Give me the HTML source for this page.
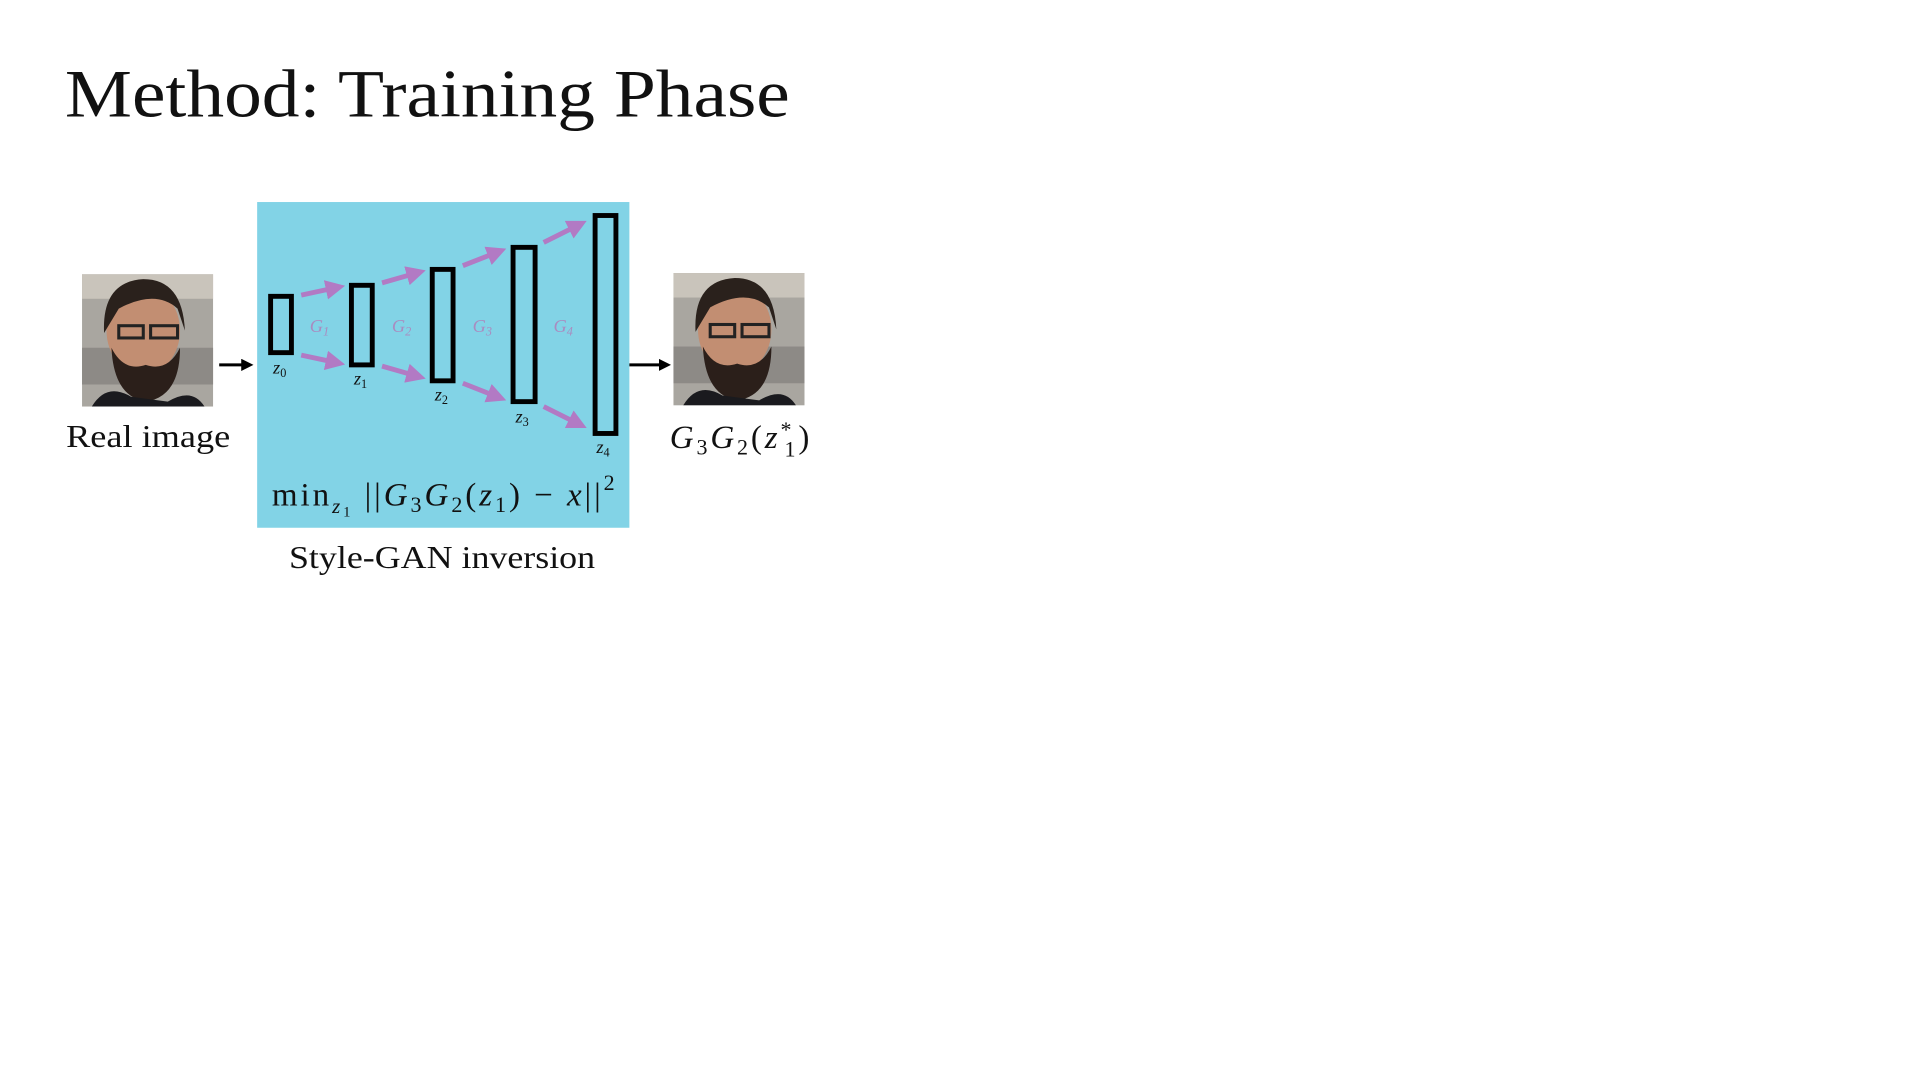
<!DOCTYPE html>
<html><head><meta charset="utf-8"><style>
html,body{margin:0;padding:0;background:#fff;width:1920px;height:1080px;overflow:hidden}
svg{display:block}
text{font-family:"Liberation Serif","DejaVu Serif",serif;fill:#111}
</style></head><body>
<svg width="1920" height="1080" viewBox="0 0 1568 882">
<defs>
<marker id="pa" markerWidth="4" markerHeight="4" refX="2" refY="2" orient="auto" markerUnits="strokeWidth"><path d="M0,0 L4,2 L0,4 z" fill="#b27ac4"/></marker>
<marker id="ba" markerWidth="4" markerHeight="4" refX="2" refY="2" orient="auto" markerUnits="strokeWidth"><path d="M0,0 L4,2 L0,4 z" fill="#000"/></marker>
<g id="face">
<rect x="0" y="0" width="107" height="108" fill="#a9a6a0"/>
<rect x="0" y="0" width="107" height="20" fill="#c9c4bb"/>
<rect x="0" y="60" width="107" height="30" fill="#8d8a86"/>
<ellipse cx="50" cy="46" rx="30" ry="36" fill="#c28e72"/>
<path d="M18,48 Q16,6 50,4 Q82,4 84,46 L78,28 Q60,12 30,28 Z" fill="#2a211c"/>
<path d="M24,60 Q26,100 52,104 Q80,100 80,60 Q70,80 52,74 Q34,80 24,60 Z" fill="#2b1f1a"/>
<rect x="30" y="42" width="20" height="10" fill="none" stroke="#222" stroke-width="2.5"/>
<rect x="56" y="42" width="22" height="10" fill="none" stroke="#222" stroke-width="2.5"/>
<path d="M8,108 Q20,88 40,100 L70,104 Q90,92 100,108 Z" fill="#1a1a1e"/>
</g>
</defs>

<text x="53" y="95" font-size="55" textLength="592" lengthAdjust="spacingAndGlyphs">Method: Training Phase</text>

<use href="#face" x="67" y="224"/>
<text x="54" y="365" font-size="26" textLength="134" lengthAdjust="spacingAndGlyphs">Real image</text>
<line x1="179" y1="298" x2="202" y2="298" stroke="#000" stroke-width="2.5" marker-end="url(#ba)"/>

<rect x="210" y="165" width="304" height="266" fill="#82d3e6"/>

<g fill="none" stroke="#000" stroke-width="4">
<rect x="221" y="242" width="17" height="46"/>
<rect x="287" y="233" width="17" height="65"/>
<rect x="353" y="220" width="17" height="91"/>
<rect x="419" y="202" width="18" height="126"/>
<rect x="486" y="176" width="17" height="178"/>
</g>

<g stroke="#b27ac4" stroke-width="4">
<line x1="246" y1="241" x2="274" y2="235" marker-end="url(#pa)"/>
<line x1="246" y1="290" x2="274" y2="296" marker-end="url(#pa)"/>
<line x1="312" y1="231" x2="340" y2="223" marker-end="url(#pa)"/>
<line x1="312" y1="299" x2="340" y2="307" marker-end="url(#pa)"/>
<line x1="378" y1="217" x2="406" y2="206" marker-end="url(#pa)"/>
<line x1="378" y1="313" x2="406" y2="324" marker-end="url(#pa)"/>
<line x1="444" y1="198" x2="472" y2="184" marker-end="url(#pa)"/>
<line x1="444" y1="332" x2="472" y2="346" marker-end="url(#pa)"/>
</g>

<g font-size="15" font-style="italic">
<text x="253" y="271" style="fill:#a98cc0">G<tspan font-size="10" dy="3">1</tspan></text>
<text x="320" y="271" style="fill:#a98cc0">G<tspan font-size="10" dy="3">2</tspan></text>
<text x="386" y="271" style="fill:#a98cc0">G<tspan font-size="10" dy="3">3</tspan></text>
<text x="452" y="271" style="fill:#a98cc0">G<tspan font-size="10" dy="3">4</tspan></text>
</g>
<g font-size="15" font-style="italic">
<text x="223" y="305">z<tspan font-size="10" font-style="normal" dy="3">0</tspan></text>
<text x="289" y="314">z<tspan font-size="10" font-style="normal" dy="3">1</tspan></text>
<text x="355" y="327">z<tspan font-size="10" font-style="normal" dy="3">2</tspan></text>
<text x="421" y="345">z<tspan font-size="10" font-style="normal" dy="3">3</tspan></text>
<text x="487" y="370">z<tspan font-size="10" font-style="normal" dy="3">4</tspan></text>
</g>

<text x="222" y="413" font-size="27" textLength="280" lengthAdjust="spacing">min<tspan font-size="17" font-style="italic" dy="6">z</tspan><tspan font-size="12" dy="3">1</tspan><tspan dy="-9"> ||</tspan><tspan font-style="italic">G</tspan><tspan font-size="18" dy="5">3</tspan><tspan font-style="italic" dy="-5">G</tspan><tspan font-size="18" dy="5">2</tspan><tspan dy="-5">(</tspan><tspan font-style="italic">z</tspan><tspan font-size="18" dy="5">1</tspan><tspan dy="-5">) − </tspan><tspan font-style="italic">x</tspan><tspan>||</tspan><tspan font-size="18" dy="-13">2</tspan></text>

<line x1="514" y1="298" x2="543" y2="298" stroke="#000" stroke-width="2.5" marker-end="url(#ba)"/>
<use href="#face" x="550" y="223"/>
<text x="547" y="366" font-size="27" textLength="114" lengthAdjust="spacing"><tspan font-style="italic">G</tspan><tspan font-size="18" dy="5">3</tspan><tspan font-style="italic" dy="-5">G</tspan><tspan font-size="18" dy="5">2</tspan><tspan dy="-5">(</tspan><tspan font-style="italic">z</tspan><tspan font-size="18" dy="-9">*</tspan><tspan font-size="18" dx="-8" dy="16">1</tspan><tspan dy="-7">)</tspan></text>

<text x="236" y="464" font-size="26" textLength="250" lengthAdjust="spacingAndGlyphs">Style-GAN inversion</text>
</svg>
</body></html>
